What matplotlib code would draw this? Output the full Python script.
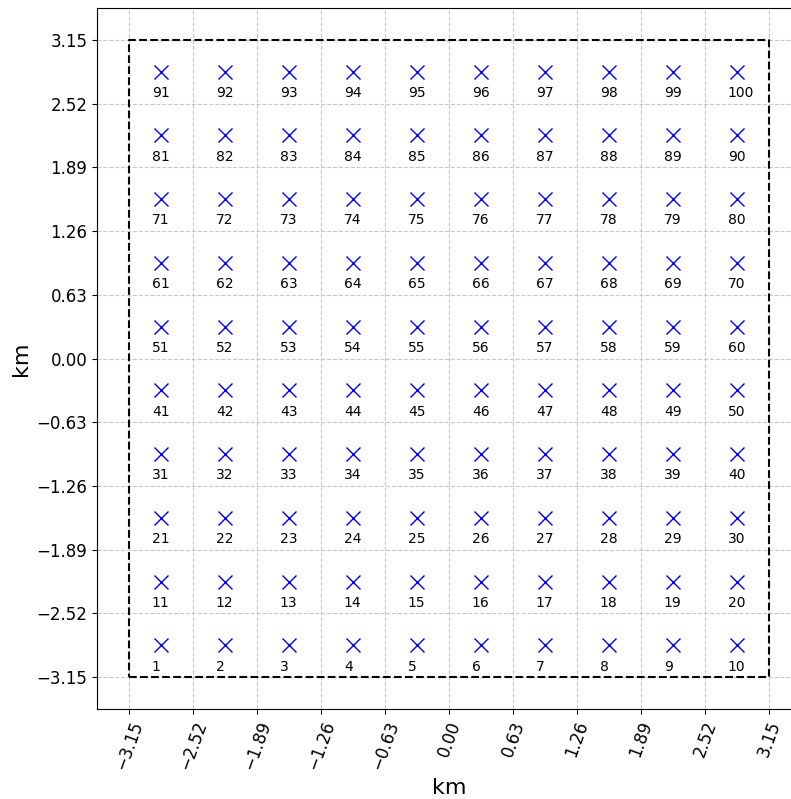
import numpy as np
import matplotlib
matplotlib.use('Agg')
import matplotlib.pyplot as plt

# area side and station grid
half = 3.15
ticks = [-3.15, -2.52, -1.89, -1.26, -0.63, 0.00, 0.63, 1.26, 1.89, 2.52, 3.15]
centres = [-2.835, -2.205, -1.575, -0.945, -0.315, 0.315, 0.945, 1.575, 2.205, 2.835]

xs = []
ys = []
for yy in centres:
    for xx in centres:
        xs.append(xx)
        ys.append(yy)
ids = list(range(1, len(xs) + 1))

def fmt(t):
    return ('%.2f' % t).replace('-', '\u2212')

fig = plt.figure(figsize=(7.91, 7.99), dpi=100)
ax = fig.add_axes([97 / 791, 90 / 799, 704 / 791, 701 / 799])

ax.plot(xs, ys, 'x', color='blue', markersize=10, mew=1.0, zorder=3)
for xx, yy, n in zip(xs, ys, ids):
    ax.text(xx - 0.09, yy - 0.25, str(n), fontsize=10, ha='left', va='baseline')

ax.plot([-half, half, half, -half, -half], [-half, -half, half, half, -half],
        'k--', lw=1.5, zorder=2)

ax.set_xlim(-half - 0.315, half + 0.315)
ax.set_ylim(-half - 0.315, half + 0.315)
ax.set_xticks(ticks)
ax.set_yticks(ticks)
ax.set_xticklabels([fmt(t) for t in ticks], rotation=70, fontsize=12)
ax.set_yticklabels([fmt(t) for t in ticks], fontsize=12)
ax.grid(True, linestyle='--', color='#c8c8c8', lw=0.8)
ax.set_axisbelow(True)
ax.set_xlabel('km', fontsize=16)
ax.set_ylabel('km', fontsize=16)

fig.savefig('out.png', dpi=100)
